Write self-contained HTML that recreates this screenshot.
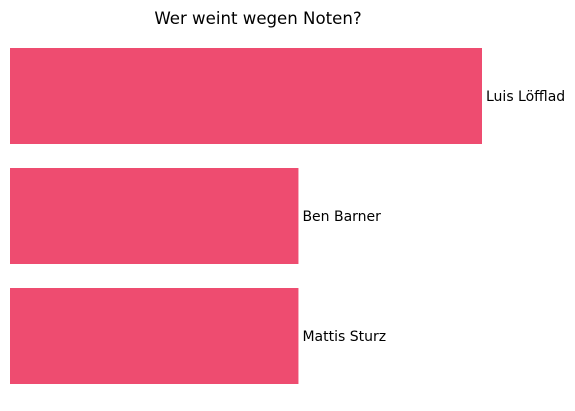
<!DOCTYPE html>
<html><head><meta charset="utf-8"><style>
html,body{margin:0;padding:0;background:#fff;width:575px;height:411px;overflow:hidden}
text{font-family:"DejaVu Sans","Liberation Sans",sans-serif}
</style></head><body>
<svg id="chart" width="575" height="411" xmlns="http://www.w3.org/2000/svg">
<text x="258" y="24" text-anchor="middle" font-size="16.6" fill="#000">Wer weint wegen Noten?</text>
<g id="bars"></g>
</svg>
<script>
const categories = ["Luis Löfflad", "Ben Barner", "Mattis Sturz"];
const values = [18, 11, 11];
const maxVal = 18;
const x0 = 10, xw = 472, top0 = 48, step = 120, bh = 96;
function xs(v){ return xw * v / maxVal; }
const g = document.getElementById('bars');
const ns = "http://www.w3.org/2000/svg";
categories.forEach((c,i)=>{
  const r = document.createElementNS(ns,'rect');
  r.setAttribute('x', x0);
  r.setAttribute('y', top0 + i*step);
  r.setAttribute('width', xs(values[i]));
  r.setAttribute('height', bh);
  r.setAttribute('fill', '#EE4C70');
  
  
  g.appendChild(r);
  const t = document.createElementNS(ns,'text');
  t.setAttribute('x', x0 + xs(values[i]) + 4);
  t.setAttribute('y', top0 + i*step + bh/2 + 5);
  t.setAttribute('font-size', '14');
  t.setAttribute('fill', '#000');
  t.textContent = c;
  
  
  g.appendChild(t);
});
</script>
</body></html>
